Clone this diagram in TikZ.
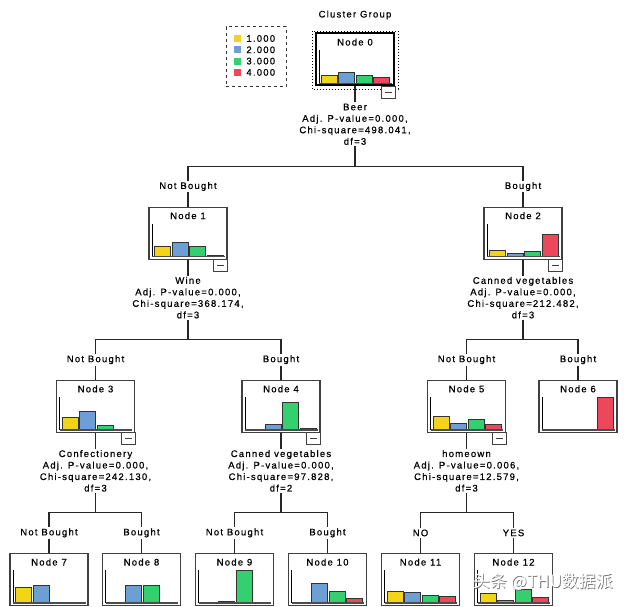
\documentclass[tikz,border=0pt]{standalone}
\usepackage{fontspec}
\setmainfont{Liberation Sans}[LetterSpace=13,FakeBold=0.7]
\newfontfamily\cjkfont{Noto Sans CJK SC}
\usepackage{tikz}
\usetikzlibrary{positioning,calc}
\definecolor{barY}{RGB}{242,212,24}
\definecolor{barB}{RGB}{108,160,212}
\definecolor{barG}{RGB}{52,208,112}
\definecolor{barR}{RGB}{236,72,92}
\newcommand{\treefont}{\fontsize{9.5pt}{11.5pt}\selectfont}
\tikzset{tree node/.style={rectangle,draw=black!75,line width=1.2pt,minimum width=78pt,inner xsep=0pt,inner ysep=3pt,text height=9pt,text depth=37pt,font=\treefont},
         stat node/.style={align=center,inner sep=1pt,font=\treefont},
         branch/.style={draw=black!85,line width=1.1pt},
         edge label/.style={fill=white,inner sep=1.5pt,font=\treefont},
         bar/.style={draw=black!80,line width=0.8pt},
         minus box/.style={draw=black!75,line width=1pt,fill=white},
         swatch/.style={rectangle,minimum size=7pt,inner sep=0pt},
            }
% bars of one node: name, then the four heights (pt)
\newcommand{\nodebars}[5]{%
  \foreach \h/\c [count=\i from 0] in {#2/barY,#3/barB,#4/barG,#5/barR}{%
    \ifdim\h pt>0pt
      \draw[bar,fill=\c] ($(#1.south west)+(6pt+17.5pt*\i,3pt)$) rectangle ++(16pt,\h pt);
    \fi}
  \draw[black,line width=1pt] ($(#1.south west)+(4pt,3pt)$) -- ++(0,33pt);
  \draw[gray!60!black,line width=1.5pt] ($(#1.south west)+(4pt,3pt)$) -- ($(#1.south east)+(-3pt,3pt)$);
}
\newcommand{\collapsebox}[1]{%
  \draw[minus box] (#1.south east) rectangle ++(-14pt,-12pt);
  \draw[black!75,line width=1pt] ($(#1.south east)+(-10.5pt,-6pt)$) -- ++(7pt,0);
}

\begin{document}
\begin{tikzpicture}
    \useasboundingbox (0,0) rectangle (624pt,-607pt);

    \node[font=\treefont] (title) at (355pt,-15pt) {Cluster Group};

    % legend
    \node[draw=black!80,dashed,line width=1pt,minimum width=60pt,minimum height=60pt] (legend) at (256pt,-57pt) {};
    \foreach \c/\v [count=\i from 0] in {barY/1.000,barB/2.000,barG/3.000,barR/4.000}{
        \node[swatch,fill=\c] (sw\i) at ($(legend.north west)+(12pt,-12pt-11.3pt*\i)$) {};
        \node[inner sep=0pt,font=\treefont] (lv\i) [right=5pt of sw\i] {\v};
    }

    \node[tree node,draw=black,line width=2pt] (0) at (355pt,-59.5pt) {Node 0};
    \node[tree node] (1) [below=120pt of 0, xshift=-167pt] {Node 1};
    \node[tree node] (2) [below=120pt of 0, xshift=168pt]  {Node 2};
    \node[tree node] (3) [below=120pt of 1, xshift=-92.5pt] {Node 3};
    \node[tree node] (4) [below=120pt of 1, xshift=93pt]   {Node 4};
    \node[tree node] (5) [below=120pt of 2, xshift=-56.5pt] {Node 5};
    \node[tree node] (6) [below=120pt of 2, xshift=55pt]   {Node 6};
    \node[tree node] (7) [below=120pt of 3, xshift=-46.5pt] {Node 7};
    \node[tree node] (8) [below=120pt of 3, xshift=46pt]   {Node 8};
    \node[tree node] (9) [below=120pt of 4, xshift=-46.5pt] {Node 9};
    \node[tree node] (10) [below=120pt of 4, xshift=46.5pt] {Node 10};
    \node[tree node] (11) [below=120pt of 5, xshift=-46pt] {Node 11};
    \node[tree node] (12) [below=120pt of 5, xshift=47pt]  {Node 12};

    \draw[black,dotted,line width=1pt] ($(0.north west)+(-3pt,1pt)$) rectangle ($(0.south east)+(3pt,-3pt)$);

    \nodebars{0}{8}{11}{8}{6}
    \nodebars{1}{10}{14}{10}{1}
    \nodebars{2}{6}{3}{5}{22}
    \nodebars{3}{13}{19}{5}{1}
    \nodebars{4}{0}{6}{28}{1.5}
    \nodebars{5}{14}{7}{11}{6}
    \nodebars{6}{0}{0}{1}{33}
    \nodebars{7}{16}{18}{0}{1}
    \nodebars{8}{0}{18}{18}{1}
    \nodebars{9}{0}{1.5}{33}{0}
    \nodebars{10}{0}{20}{12}{5}
    \nodebars{11}{12}{11}{8}{7}
    \nodebars{12}{10}{3}{14}{6}

    % split statistics
    \node[stat node] (s0) [below=16pt of 0] {Beer\\Adj. P-value=0.000,\\Chi-square=498.041,\\df=3};
    \node[stat node] (s1) [below=16pt of 1] {Wine\\Adj. P-value=0.000,\\Chi-square=368.174,\\df=3};
    \node[stat node] (s2) [below=16pt of 2] {Canned vegetables\\Adj. P-value=0.000,\\Chi-square=212.482,\\df=3};
    \node[stat node] (s3) [below=16pt of 3] {Confectionery\\Adj. P-value=0.000,\\Chi-square=242.130,\\df=3};
    \node[stat node] (s4) [below=16pt of 4] {Canned vegetables\\Adj. P-value=0.000,\\Chi-square=97.828,\\df=2};
    \node[stat node] (s5) [below=16pt of 5] {homeown\\Adj. P-value=0.006,\\Chi-square=12.579,\\df=3};

    \foreach \n in {0,...,5}{
        \coordinate[below=80pt of \n] (j\n);
        \path[branch] (\n) -- (s\n) (s\n) -- (j\n);
    }

    \path[branch]
    (j0) -| node[edge label,pos=0.75] {Not Bought} (1)
    (j0) -| node[edge label,pos=0.75] {Bought} (2)
    (j1) -| node[edge label,pos=0.75] {Not Bought} (3)
    (j1) -| node[edge label,pos=0.75] {Bought} (4)
    (j2) -| node[edge label,pos=0.75] {Not Bought} (5)
    (j2) -| node[edge label,pos=0.75] {Bought} (6)
    (j3) -| node[edge label,pos=0.75] {Not Bought} (7)
    (j3) -| node[edge label,pos=0.75] {Bought} (8)
    (j4) -| node[edge label,pos=0.75] {Not Bought} (9)
    (j4) -| node[edge label,pos=0.75] {Bought} (10)
    (j5) -| node[edge label,pos=0.75] {NO} (11)
    (j5) -| node[edge label,pos=0.75] {YES} (12)
    ;

    \foreach \n in {0,...,5}{
        \collapsebox{\n}
    }

    %% watermark
    \node[font=\cjkfont\fontsize{17pt}{17pt}\selectfont,text=black!55] (wmshadow) at (543.8pt,-582.8pt) {头条 @THU数据派};
    \node[font=\cjkfont\fontsize{17pt}{17pt}\selectfont,text=white] (wm) at (543pt,-582pt) {头条 @THU数据派};
\end{tikzpicture}
\end{document}
